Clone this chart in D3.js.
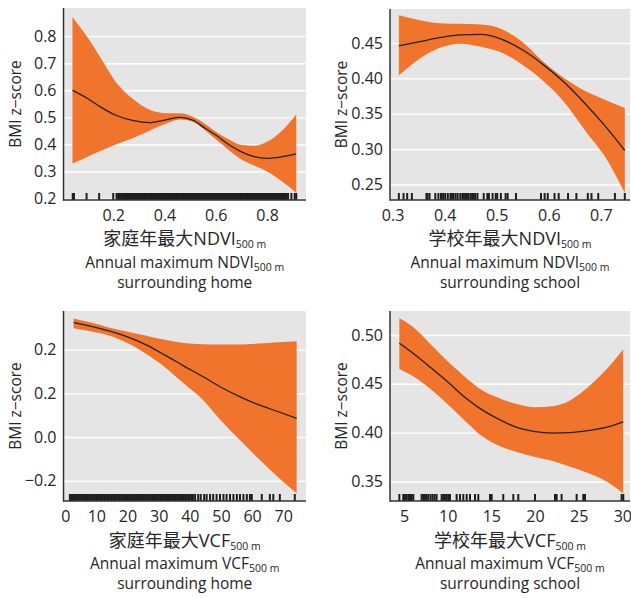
<!DOCTYPE html>
<html>
<head>
<meta charset="utf-8">
<script src="https://cdnjs.cloudflare.com/ajax/libs/d3/7.8.5/d3.min.js"></script>
<style>
  body { margin: 0; background: #fff; }
  svg text { font-family: "Open Sans", "Noto Sans CJK SC", sans-serif; fill: #262626; }
</style>
</head>
<body>
<svg id="chart" width="631" height="598"></svg>
<script>
// ---- panel 1: NDVI around home ----
const ndviHomeX     = [0.041, 0.10, 0.15, 0.21, 0.28, 0.34, 0.41, 0.46, 0.51, 0.56, 0.60, 0.65, 0.70, 0.75, 0.80, 0.86, 0.914];
const ndviHomeFit   = [0.600, 0.570, 0.539, 0.508, 0.488, 0.481, 0.492, 0.500, 0.490, 0.459, 0.435, 0.400, 0.373, 0.355, 0.349, 0.355, 0.365];
const ndviHomeLower = [0.330, 0.355, 0.376, 0.400, 0.425, 0.450, 0.478, 0.492, 0.484, 0.451, 0.419, 0.380, 0.345, 0.322, 0.300, 0.262, 0.222];
const ndviHomeUpper = [0.871, 0.795, 0.721, 0.631, 0.566, 0.529, 0.515, 0.515, 0.502, 0.475, 0.447, 0.419, 0.398, 0.395, 0.410, 0.453, 0.511];
const ndviHomeRug = [0.042, 0.047, 0.096, 0.145, 0.200, 0.213, 0.219, 0.223, 0.229,
  0.235,0.24,0.245,0.25,0.255,0.26,0.265,0.27,0.275,0.28,
  0.285,0.29,0.295,0.3,0.305,0.31,0.315,0.32,0.325,0.33,
  0.335,0.34,0.345,0.35,0.355,0.36,0.365,0.37,0.375,0.38,
  0.385,0.39,0.395,0.4,0.405,0.41,0.415,0.42,0.425,0.43,
  0.435,0.44,0.445,0.45,0.455,0.46,0.465,0.47,0.475,0.48,
  0.485,0.49,0.495,0.5,0.505,0.51,0.515,0.52,0.525,0.53,
  0.535,0.54,0.545,0.55,0.555,0.56,0.565,0.57,0.575,0.58,
  0.585,0.59,0.595,0.6,0.605,0.61,0.615,0.62,0.625,0.63,
  0.635,0.64,0.645,0.65,0.655,0.66,0.665,0.67,0.675,0.68,
  0.685,0.69,0.695,0.7,0.705,0.71,0.715,0.72,0.725,0.73,
  0.735,0.74,0.745,0.75,0.755,0.76,0.765,0.77,0.775,0.78,
  0.785,0.79,0.795,0.8,0.805,0.81,0.815,0.82,0.825,0.83,
  0.835,0.84,0.845,0.85,0.855,0.86,0.865,0.87,0.875,
  0.882, 0.895, 0.908, 0.914];
const ndviHomeXTicks = [0.2, 0.4, 0.6, 0.8];
const ndviHomeYTicks = [0.2, 0.3, 0.4, 0.5, 0.6, 0.7, 0.8];
const ndviHomeYLabels = ["0.2", "0.3", "0.4", "0.5", "0.6", "0.7", "0.8"];

// ---- panel 2: NDVI around school ----
const ndviSchoolX     = [0.312, 0.35, 0.39, 0.43, 0.47, 0.51, 0.55, 0.59, 0.63, 0.67, 0.71, 0.746];
const ndviSchoolFit   = [0.446, 0.4515, 0.4575, 0.4615, 0.462, 0.455, 0.440, 0.419, 0.394, 0.364, 0.331, 0.298];
const ndviSchoolLower = [0.404, 0.427, 0.443, 0.449, 0.4445, 0.436, 0.419, 0.396, 0.366, 0.326, 0.287, 0.238];
const ndviSchoolUpper = [0.489, 0.4825, 0.478, 0.477, 0.476, 0.4695, 0.451, 0.423, 0.400, 0.382, 0.369, 0.358];
const ndviSchoolRug = [0.312, 0.321, 0.328, 0.337, 0.365, 0.367, 0.371, 0.382, 0.388, 0.393, 0.397,
  0.401, 0.406, 0.411, 0.414, 0.417, 0.421, 0.425, 0.430, 0.434, 0.437, 0.440, 0.443, 0.446,
  0.450, 0.453, 0.456, 0.459, 0.463, 0.475, 0.482, 0.485, 0.492, 0.498, 0.501, 0.508, 0.517,
  0.521, 0.537, 0.585, 0.592, 0.598, 0.611, 0.619, 0.637, 0.653, 0.675, 0.682, 0.695, 0.727, 0.746];
const ndviSchoolXTicks = [0.3, 0.4, 0.5, 0.6, 0.7];
const ndviSchoolYTicks = [0.25, 0.30, 0.35, 0.40, 0.45];
const ndviSchoolYLabels = ["0.25", "0.30", "0.35", "0.40", "0.45"];

// ---- panel 3: VCF around home ----
const vcfHomeX     = [2.7, 8, 14, 20, 26, 32, 38, 44, 50, 56, 62, 68, 74.3];
const vcfHomeFit   = [0.524, 0.508, 0.486, 0.459, 0.422, 0.375, 0.326, 0.278, 0.228, 0.185, 0.148, 0.118, 0.085];
const vcfHomeLower = [0.498, 0.484, 0.465, 0.430, 0.380, 0.320, 0.246, 0.173, 0.076, -0.013, -0.098, -0.180, -0.258];
const vcfHomeUpper = [0.543, 0.525, 0.502, 0.482, 0.464, 0.445, 0.431, 0.425, 0.424, 0.424, 0.428, 0.434, 0.438];
const vcfHomeRug = [
  1.5,2,2.5,3,3.5,4,4.5,5,5.5,6,6.5,7,7.5,8,8.5,9,9.5,10,10.5,11,
  11.5,12,12.5,13,13.5,14,14.5,15,15.5,16,16.5,17,17.5,18,18.5,19,19.5,20,20.5,21,
  21.5,22,22.5,23,23.5,24,24.5,25,25.5,26,26.5,27,27.5,28,28.5,29,29.5,30,30.5,31,
  31.5,32,32.5,33,33.5,34,34.5,35,35.5,36,36.5,37,37.5,38,38.5,39,39.5,40,40.5,41,
  41.7, 42.7, 43.5, 44.6, 45.4, 46.5, 47.5, 48.6, 49.7, 50.8, 51.8, 52.9, 54.0, 55.1,
  56.1, 57.2, 58.3, 59.3, 59.9, 63.1, 65.7, 66.8, 68.9, 73.7];
const vcfHomeXTicks = [0, 10, 20, 30, 40, 50, 60, 70];
const vcfHomeYTicks = [-0.2, 0.0, 0.2, 0.4];
const vcfHomeYLabels = ["\u22120.2", "0.0", "0.2", "0.2"];

// ---- panel 4: VCF around school ----
const vcfSchoolX     = [4.47, 6, 8, 10, 12, 14, 16, 18, 20, 22, 24, 26, 28, 30.1];
const vcfSchoolFit   = [0.4915, 0.4815, 0.467, 0.452, 0.436, 0.423, 0.413, 0.405, 0.401, 0.3995, 0.400, 0.402, 0.405, 0.411];
const vcfSchoolLower = [0.465, 0.458, 0.445, 0.429, 0.412, 0.396, 0.386, 0.380, 0.375, 0.371, 0.365, 0.359, 0.351, 0.338];
const vcfSchoolUpper = [0.517, 0.5085, 0.491, 0.473, 0.457, 0.443, 0.435, 0.429, 0.426, 0.427, 0.433, 0.446, 0.463, 0.485];
const vcfSchoolRug = [4.47, 4.92, 5.11, 5.3, 5.5, 5.69, 5.88, 6.07, 7.02, 7.21, 7.4, 7.6, 7.79,
  8.05, 8.28, 8.51, 8.74, 9.31, 9.5, 9.69, 9.89, 10.08, 10.27, 11.03, 11.41, 11.79, 12.18,
  12.56, 13.13, 13.51, 14.85, 15.04, 16.37, 17.52, 18.09, 20.0, 22.29, 22.48, 23.05, 24.77,
  25.53, 25.73, 29.92, 30.11];
const vcfSchoolXTicks = [5, 10, 15, 20, 25, 30];
const vcfSchoolYTicks = [0.35, 0.40, 0.45, 0.50];
const vcfSchoolYLabels = ["0.35", "0.40", "0.45", "0.50"];

const yTitle = "BMI z\u2212score";

const panels = [
  { box: { l: 63.5, r: 306, t: 8, b: 200 }, xDom: [0.006, 0.952], yDom: [0.195, 0.904],
    x: ndviHomeX, fit: ndviHomeFit, lo: ndviHomeLower, hi: ndviHomeUpper, rug: ndviHomeRug,
    xTicks: ndviHomeXTicks, xFmt: d3.format(".1f"), yTicks: ndviHomeYTicks, yLabels: ndviHomeYLabels,
    titleY: [245, 268, 288],
    title: [["家庭年最大NDVI", "500 m"], ["Annual maximum NDVI", "500 m"], ["surrounding home", ""]] },
  { box: { l: 390, r: 630, t: 9, b: 200 }, xDom: [0.295, 0.756], yDom: [0.228, 0.498],
    x: ndviSchoolX, fit: ndviSchoolFit, lo: ndviSchoolLower, hi: ndviSchoolUpper, rug: ndviSchoolRug,
    xTicks: ndviSchoolXTicks, xFmt: d3.format(".1f"), yTicks: ndviSchoolYTicks, yLabels: ndviSchoolYLabels,
    titleY: [245, 268, 288],
    title: [["学校年最大NDVI", "500 m"], ["Annual maximum NDVI", "500 m"], ["surrounding school", ""]] },
  { box: { l: 63.5, r: 306, t: 311, b: 501 }, xDom: [-0.55, 77.3], yDom: [-0.293, 0.577],
    x: vcfHomeX, fit: vcfHomeFit, lo: vcfHomeLower, hi: vcfHomeUpper, rug: vcfHomeRug,
    xTicks: vcfHomeXTicks, xFmt: d3.format("d"), yTicks: vcfHomeYTicks, yLabels: vcfHomeYLabels,
    titleY: [547, 569, 589],
    title: [["家庭年最大VCF", "500 m"], ["Annual maximum VCF", "500 m"], ["surrounding home", ""]] },
  { box: { l: 390, r: 630, t: 311, b: 501 }, xDom: [3.4, 30.88], yDom: [0.330, 0.5245],
    x: vcfSchoolX, fit: vcfSchoolFit, lo: vcfSchoolLower, hi: vcfSchoolUpper, rug: vcfSchoolRug,
    xTicks: vcfSchoolXTicks, xFmt: d3.format("d"), yTicks: vcfSchoolYTicks, yLabels: vcfSchoolYLabels,
    titleY: [547, 569, 589],
    title: [["学校年最大VCF", "500 m"], ["Annual maximum VCF", "500 m"], ["surrounding school", ""]] }
];

const svg = d3.select("#chart");

panels.forEach(function(p) {
  const b = p.box;
  const xScale = d3.scaleLinear().domain(p.xDom).range([b.l, b.r]);
  const yScale = d3.scaleLinear().domain(p.yDom).range([b.b, b.t]);
  const g = svg.append("g");

  // background
  g.append("rect").attr("x", b.l).attr("y", b.t)
    .attr("width", b.r - b.l).attr("height", b.b - b.t).attr("fill", "#e5e5e5");

  // horizontal grid
  const grid = g.append("g").attr("transform", "translate(" + b.l + ",0)")
    .call(d3.axisLeft(yScale).tickValues(p.yTicks).tickSize(-(b.r - b.l)).tickFormat(""));
  grid.select(".domain").remove();
  grid.selectAll("line").attr("stroke", "#fff").attr("stroke-width", 1.4);

  // confidence band + fitted curve
  const rows = p.x.map((v, i) => ({ x: v, fit: p.fit[i], lo: p.lo[i], hi: p.hi[i] }));
  const area = d3.area().x(d => xScale(d.x)).y0(d => yScale(d.lo)).y1(d => yScale(d.hi))
    .curve(d3.curveMonotoneX);
  g.append("path").datum(rows).attr("d", area).attr("fill", "#f1742c");
  const line = d3.line().x(d => xScale(d.x)).y(d => yScale(d.fit)).curve(d3.curveMonotoneX);
  g.append("path").datum(rows).attr("d", line)
    .attr("fill", "none").attr("stroke", "#222").attr("stroke-width", 1.3);

  // rug
  g.append("g").selectAll("line").data(p.rug).join("line")
    .attr("x1", d => xScale(d)).attr("x2", d => xScale(d))
    .attr("y1", b.b).attr("y2", b.b - 7)
    .attr("stroke", "#1e1e1e").attr("stroke-width", 2);

  // axes
  const yAxis = g.append("g").attr("transform", "translate(" + b.l + ",0)")
    .call(d3.axisLeft(yScale).tickValues(p.yTicks).tickSize(0).tickPadding(7)
      .tickFormat((d, i) => p.yLabels[i]));
  const xAxis = g.append("g").attr("transform", "translate(0," + b.b + ")")
    .call(d3.axisBottom(xScale).tickValues(p.xTicks).tickSize(0).tickPadding(10).tickFormat(p.xFmt));
  [xAxis, yAxis].forEach(function(a) {
    a.select(".domain").remove();
    a.selectAll("text").attr("font-size", 16).attr("fill", "#262626")
      .attr("font-family", '"Open Sans", sans-serif');
  });
  g.append("line").attr("x1", b.l).attr("x2", b.l).attr("y1", b.t).attr("y2", b.b + 0.75)
    .attr("stroke", "#333").attr("stroke-width", 1.5);
  g.append("line").attr("x1", b.l).attr("x2", b.r).attr("y1", b.b).attr("y2", b.b)
    .attr("stroke", "#333").attr("stroke-width", 1.5);

  // y title
  g.append("text")
    .attr("transform", "translate(" + (b.l - 43) + "," + ((b.t + b.b) / 2) + ") rotate(-90)")
    .attr("text-anchor", "middle").attr("font-size", 15.5).text(yTitle);

  // x title, three lines
  const cx = (b.l + b.r) / 2;
  p.title.forEach(function(t, i) {
    const txt = g.append("text").attr("x", cx).attr("y", p.titleY[i])
      .attr("text-anchor", "middle").attr("font-size", i === 0 ? 18 : 15.5);
    txt.append("tspan").text(t[0]);
    if (t[1]) {
      txt.append("tspan").attr("font-size", 10.5).attr("dy", 3).text(t[1]);
    }
  });
});
</script>
</body>
</html>
